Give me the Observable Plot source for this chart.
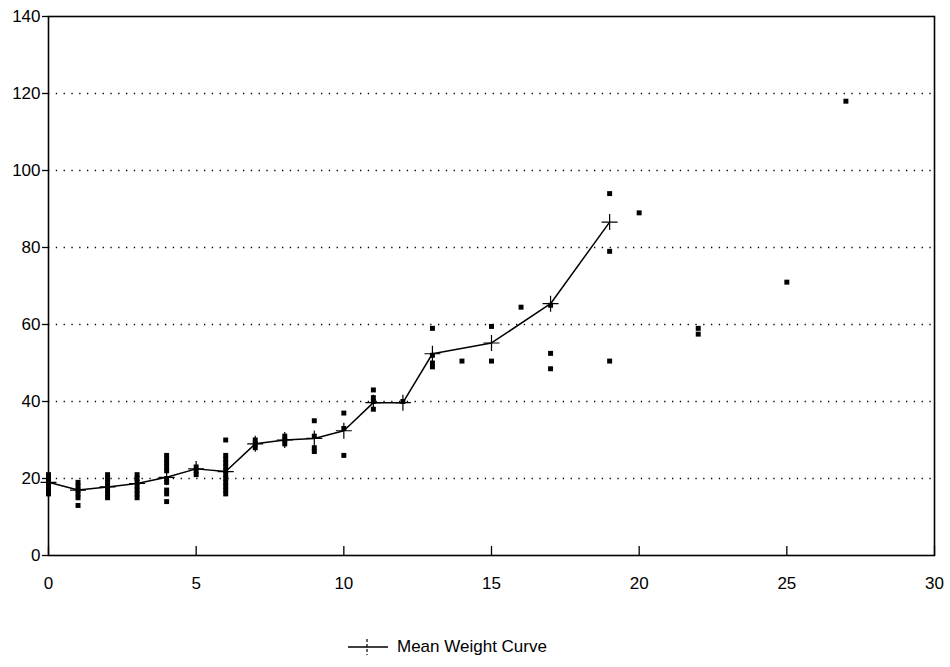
<!DOCTYPE html>
<html>
<head>
<meta charset="utf-8">
<script src="https://cdn.jsdelivr.net/npm/d3@7"></script>
<script src="https://cdn.jsdelivr.net/npm/@observablehq/plot@0.6"></script>
<style>
  html, body { margin: 0; padding: 0; background: #fff; }
  body { width: 950px; height: 667px; position: relative; font-family: "Liberation Sans", Arial, sans-serif; }
  #legend { position: absolute; left: 347px; top: 637px; display: flex; align-items: center; font-size: 17px; color: #000; }
  #legend svg { margin-right: 8px; }
</style>
</head>
<body>
<div id="chart"></div>
<div id="legend">
  <svg width="42" height="20"><line x1="1" y1="10" x2="41" y2="10" stroke="#000" stroke-width="1.3"/><line x1="20" y1="2" x2="20" y2="18" stroke="#000" stroke-width="1.2" stroke-dasharray="3,2"/></svg>
  <span>Mean Weight Curve</span>
</div>
<script>
// Observed individual weights (age, weight)
const obsAge = [
  0,0,0,0,0,0,
  1,1,1,1,1,1,
  2,2,2,2,2,2,2,
  3,3,3,3,3,3,3,
  4,4,4,4,4,4,4,4,4,4,
  5,5,5,
  6,6,6,6,6,6,6,6,6,6,6,6,
  7,7,7,
  8,8,8,
  9,9,9,9,
  10,10,10,
  11,11,11,11,
  12,
  13,13,13,13,
  14,
  15,15,
  16,
  17,17,17,
  19,19,19,
  20,
  22,22,
  25,
  27
];
const obsWeight = [
  21,20,19,18,17,16,
  19,18,17,16,15,13,
  21,20,19,18,17,16,15,
  21,20,19,18,17,16,15,
  26,25,24,23,22,20,19,17,16,14,
  23,22,21,
  30,26,25,24,23,22,21,20,19,18,17,16,
  30,29,28,
  31,30,29,
  35,31,28,27,
  37,33,26,
  43,41,40,38,
  40,
  59,52,50,49,
  50.5,
  59.5,50.5,
  64.5,
  65,52.5,48.5,
  94,79,50.5,
  89,
  59,57.5,
  71,
  118
];
// Mean weight curve
const meanAge = [0,1,2,3,4,5,6,7,8,9,10,11,12,13,15,17,19];
const meanWeight = [19,17,17.8,18.7,20.3,22.5,21.8,29,30,30.4,32.4,39.7,39.7,52.4,55.2,65.4,86.6];
// Axis ticks
const xTicks = [0,5,10,15,20,25,30];
const yTicks = [0,20,40,60,80,100,120,140];
const gridY = [20,40,60,80,100,120];

const obs = obsAge.map((a, i) => ({age: a, weight: obsWeight[i]}));
const mean = meanAge.map((a, i) => ({age: a, weight: meanWeight[i]}));

const crossSymbol = {
  draw(context, size) {
    const r = Math.sqrt(size / Math.PI);
    context.moveTo(-r, 0); context.lineTo(r, 0);
    context.moveTo(0, -r); context.lineTo(0, r);
  }
};

const chart = Plot.plot({
  width: 950,
  height: 610,
  marginLeft: 48,
  marginRight: 16,
  marginTop: 16,
  marginBottom: 55,
  style: {fontFamily: "'Liberation Sans', Arial, sans-serif", fontSize: "17px", color: "#000", background: "#fff"},
  x: {domain: [0, 30], ticks: xTicks},
  y: {domain: [0, 140], ticks: yTicks},
  marks: [
    Plot.ruleY(gridY, {stroke: "#000", strokeWidth: 1.3, strokeDasharray: "1.3,6.5"}),
    Plot.axisY({ticks: yTicks, tickSize: 6, tickPadding: 2, label: null, fontSize: 17, stroke: "#000", strokeWidth: 1.3}),
    Plot.axisX({ticks: xTicks, tickSize: 0, tickPadding: 21, label: null, fontSize: 17}),
    Plot.tickX(xTicks, {x: d => d, stroke: "#000", strokeWidth: 1.3, insetTop: 530}),
    Plot.frame({stroke: "#000", strokeWidth: 1.6}),
    Plot.dot(obs, {x: "age", y: "weight", symbol: "square", r: 2.8, fill: "#000", stroke: "none"}),
    Plot.line(mean, {x: "age", y: "weight", stroke: "#000", strokeWidth: 1.5}),
    Plot.dot(mean, {x: "age", y: "weight", symbol: crossSymbol, r: 8, fill: "none", stroke: "#000", strokeWidth: 1.2})
  ]
});
document.getElementById("chart").appendChild(chart);
</script>
</body>
</html>
